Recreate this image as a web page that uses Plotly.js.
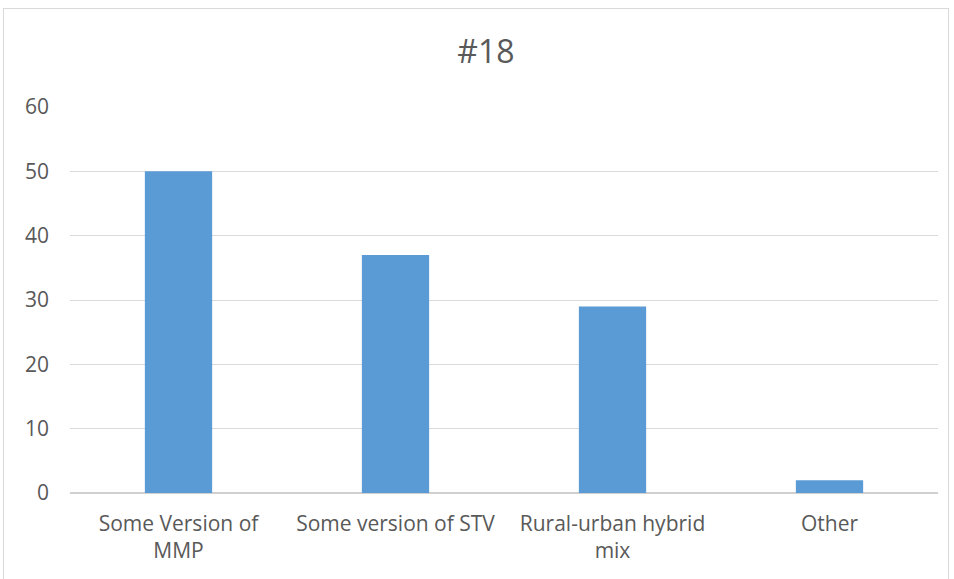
<!DOCTYPE html>
<html>
<head>
<meta charset="utf-8">
<script src="https://cdn.plot.ly/plotly-3.0.1.min.js"></script>
<style>
html,body{margin:0;padding:0;background:#fff;}
#wrap{position:relative;width:954px;height:579px;}
#chart{width:954px;height:579px;}
#frame{position:absolute;left:3px;top:8px;width:946px;height:580px;border:1px solid #d9d9d9;pointer-events:none;box-sizing:border-box;}
</style>
</head>
<body>
<div id="wrap"><div id="chart"></div><div id="frame"></div></div>
<script>
var categories = ["Some Version of<br>MMP", "Some version of STV", "Rural-urban hybrid<br>mix", "Other"];
var values = [50, 37, 29, 2];
var tickValues = [0, 10, 20, 30, 40, 50, 60];
var chartTitle = "#18";

var font = "Open Sans, Liberation Sans, sans-serif";
var trace = {
  type: "bar",
  x: categories,
  y: values,
  marker: {color: "#5b9bd5"},
  hoverinfo: "x+y"
};
var layout = {
  width: 954, height: 579,
  margin: {l: 70, r: 16, t: 107, b: 86},
  paper_bgcolor: "#fff", plot_bgcolor: "#fff",
  bargap: 0.69,
  showlegend: false,
  title: {text: chartTitle, x: 486/954, xanchor: "center", y: 1 - 52/579, yanchor: "middle",
          font: {family: font, size: 32, color: "#595959"}},
  xaxis: {
    tickfont: {family: font, size: 21, color: "#595959"},
    showgrid: false, zeroline: false, showline: false, ticks: "",
    ticklabelstandoff: 16,
    fixedrange: true
  },
  yaxis: {
    range: [0, 60], tickvals: tickValues, ticktext: tickValues.map(String),
    tickfont: {family: font, size: 21, color: "#595959"},
    showgrid: true, gridcolor: "#d9d9d9", gridwidth: 1,
    zeroline: true, zerolinecolor: "#d0d0d0", zerolinewidth: 1.5,
    showline: false, ticks: "", ticklabelstandoff: 20,
    fixedrange: true
  }
};
Plotly.newPlot("chart", [trace], layout, {displayModeBar: false, staticPlot: true});
</script>
</body>
</html>
